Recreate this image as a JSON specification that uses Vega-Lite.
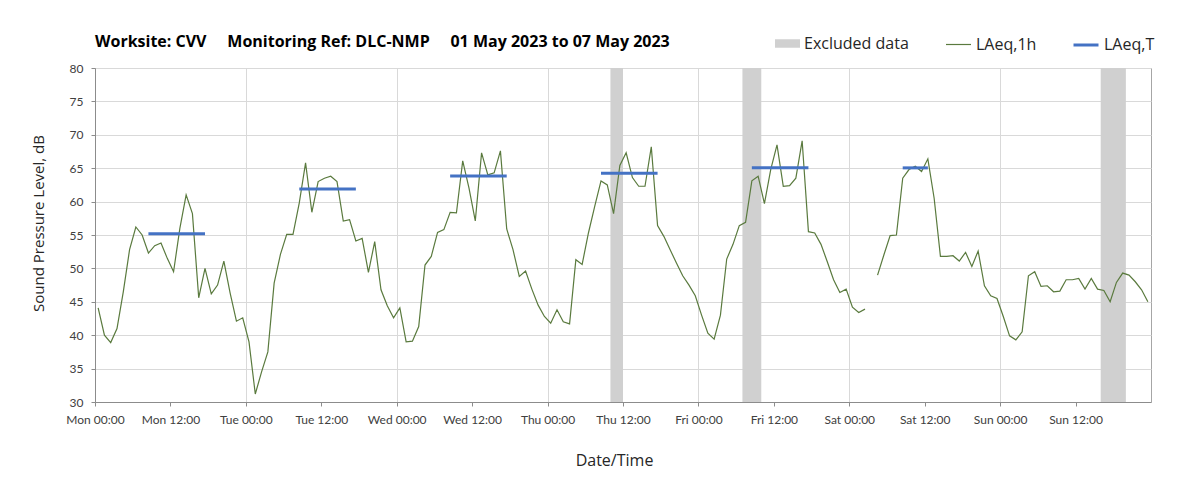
{
  "$schema": "https://vega.github.io/schema/vega-lite/v6.json",
  "autosize": {"type": "none"},
  "width": 1056,
  "height": 334,
  "padding": {"left": 95, "top": 68, "right": 52, "bottom": 93},
  "background": "white",
  "title": {
    "text": "Worksite: CVV\u00a0\u00a0\u00a0\u00a0\u00a0Monitoring Ref: DLC-NMP\u00a0\u00a0\u00a0\u00a0\u00a001 May 2023 to 07 May 2023",
    "anchor": "start", "frame": "group", "fontSize": 16, "fontWeight": "bold", "font": "Open Sans", "color": "#000000", "offset": 20, "dy": 39
  },
  "config": {
    "font": "Lato",
    "view": {"stroke": "#a6a6a6", "strokeWidth": 1},
    "axis": {
      "labelFont": "Lato", "labelFontSize": 12, "labelColor": "#404040",
      "titleFont": "Open Sans", "titleFontSize": 15, "titleFontWeight": "normal", "titleColor": "#262626",
      "gridColor": "#d9d9d9", "domainColor": "#8c8c8c", "tickColor": "#8c8c8c", "tickSize": 4, "labelPadding": 8
    },
    "legend": {
      "orient": "none", "legendY": -37, "labelFont": "Open Sans", "labelFontSize": 16, "labelColor": "#262626",
      "symbolSize": 625, "labelOffset": 4, "symbolOpacity": 1
    }
  },
  "datasets": {
    "hourly": [
      {"t":"2023-05-01T00:30","v":44.1},{"t":"2023-05-01T01:30","v":40.0},{"t":"2023-05-01T02:30","v":38.9},{"t":"2023-05-01T03:30","v":41.0},
      {"t":"2023-05-01T04:30","v":46.5},{"t":"2023-05-01T05:30","v":52.8},{"t":"2023-05-01T06:30","v":56.2},{"t":"2023-05-01T07:30","v":55.0},
      {"t":"2023-05-01T08:30","v":52.3},{"t":"2023-05-01T09:30","v":53.4},{"t":"2023-05-01T10:30","v":53.8},{"t":"2023-05-01T11:30","v":51.5},
      {"t":"2023-05-01T12:30","v":49.5},{"t":"2023-05-01T13:30","v":56.0},{"t":"2023-05-01T14:30","v":61.0},{"t":"2023-05-01T15:30","v":58.2},
      {"t":"2023-05-01T16:30","v":45.6},{"t":"2023-05-01T17:30","v":50.0},{"t":"2023-05-01T18:30","v":46.2},{"t":"2023-05-01T19:30","v":47.5},
      {"t":"2023-05-01T20:30","v":51.1},{"t":"2023-05-01T21:30","v":46.3},{"t":"2023-05-01T22:30","v":42.1},{"t":"2023-05-01T23:30","v":42.6},
      {"t":"2023-05-02T00:30","v":39.0},{"t":"2023-05-02T01:30","v":31.2},{"t":"2023-05-02T02:30","v":34.5},{"t":"2023-05-02T03:30","v":37.5},
      {"t":"2023-05-02T04:30","v":47.8},{"t":"2023-05-02T05:30","v":52.1},{"t":"2023-05-02T06:30","v":55.1},{"t":"2023-05-02T07:30","v":55.1},
      {"t":"2023-05-02T08:30","v":59.8},{"t":"2023-05-02T09:30","v":65.8},{"t":"2023-05-02T10:30","v":58.4},{"t":"2023-05-02T11:30","v":63.0},
      {"t":"2023-05-02T12:30","v":63.5},{"t":"2023-05-02T13:30","v":63.8},{"t":"2023-05-02T14:30","v":63.0},{"t":"2023-05-02T15:30","v":57.1},
      {"t":"2023-05-02T16:30","v":57.3},{"t":"2023-05-02T17:30","v":54.1},{"t":"2023-05-02T18:30","v":54.5},{"t":"2023-05-02T19:30","v":49.4},
      {"t":"2023-05-02T20:30","v":54.0},{"t":"2023-05-02T21:30","v":46.8},{"t":"2023-05-02T22:30","v":44.4},{"t":"2023-05-02T23:30","v":42.6},
      {"t":"2023-05-03T00:30","v":44.1},{"t":"2023-05-03T01:30","v":39.0},{"t":"2023-05-03T02:30","v":39.1},{"t":"2023-05-03T03:30","v":41.3},
      {"t":"2023-05-03T04:30","v":50.5},{"t":"2023-05-03T05:30","v":51.8},{"t":"2023-05-03T06:30","v":55.4},{"t":"2023-05-03T07:30","v":55.8},
      {"t":"2023-05-03T08:30","v":58.4},{"t":"2023-05-03T09:30","v":58.3},{"t":"2023-05-03T10:30","v":66.1},{"t":"2023-05-03T11:30","v":62.0},
      {"t":"2023-05-03T12:30","v":57.1},{"t":"2023-05-03T13:30","v":67.3},{"t":"2023-05-03T14:30","v":64.0},{"t":"2023-05-03T15:30","v":64.3},
      {"t":"2023-05-03T16:30","v":67.6},{"t":"2023-05-03T17:30","v":55.9},{"t":"2023-05-03T18:30","v":52.8},{"t":"2023-05-03T19:30","v":48.8},
      {"t":"2023-05-03T20:30","v":49.6},{"t":"2023-05-03T21:30","v":46.9},{"t":"2023-05-03T22:30","v":44.5},{"t":"2023-05-03T23:30","v":42.8},
      {"t":"2023-05-04T00:30","v":41.8},{"t":"2023-05-04T01:30","v":43.8},{"t":"2023-05-04T02:30","v":42.0},{"t":"2023-05-04T03:30","v":41.7},
      {"t":"2023-05-04T04:30","v":51.3},{"t":"2023-05-04T05:30","v":50.6},{"t":"2023-05-04T06:30","v":55.3},{"t":"2023-05-04T07:30","v":59.3},
      {"t":"2023-05-04T08:30","v":63.1},{"t":"2023-05-04T09:30","v":62.5},{"t":"2023-05-04T10:30","v":58.2},{"t":"2023-05-04T11:30","v":65.4},
      {"t":"2023-05-04T12:30","v":67.3},{"t":"2023-05-04T13:30","v":63.6},{"t":"2023-05-04T14:30","v":62.3},{"t":"2023-05-04T15:30","v":62.3},
      {"t":"2023-05-04T16:30","v":68.2},{"t":"2023-05-04T17:30","v":56.4},{"t":"2023-05-04T18:30","v":54.8},{"t":"2023-05-04T19:30","v":52.8},
      {"t":"2023-05-04T20:30","v":50.8},{"t":"2023-05-04T21:30","v":48.9},{"t":"2023-05-04T22:30","v":47.5},{"t":"2023-05-04T23:30","v":45.9},
      {"t":"2023-05-05T00:30","v":43.0},{"t":"2023-05-05T01:30","v":40.3},{"t":"2023-05-05T02:30","v":39.4},{"t":"2023-05-05T03:30","v":43.0},
      {"t":"2023-05-05T04:30","v":51.4},{"t":"2023-05-05T05:30","v":53.6},{"t":"2023-05-05T06:30","v":56.4},{"t":"2023-05-05T07:30","v":56.9},
      {"t":"2023-05-05T08:30","v":63.1},{"t":"2023-05-05T09:30","v":63.8},{"t":"2023-05-05T10:30","v":59.7},{"t":"2023-05-05T11:30","v":64.8},
      {"t":"2023-05-05T12:30","v":68.5},{"t":"2023-05-05T13:30","v":62.3},{"t":"2023-05-05T14:30","v":62.4},{"t":"2023-05-05T15:30","v":63.5},
      {"t":"2023-05-05T16:30","v":69.1},{"t":"2023-05-05T17:30","v":55.5},{"t":"2023-05-05T18:30","v":55.3},{"t":"2023-05-05T19:30","v":53.6},
      {"t":"2023-05-05T20:30","v":51.0},{"t":"2023-05-05T21:30","v":48.3},{"t":"2023-05-05T22:30","v":46.4},{"t":"2023-05-05T23:30","v":46.9},
      {"t":"2023-05-06T00:30","v":44.2},{"t":"2023-05-06T01:30","v":43.4},{"t":"2023-05-06T02:30","v":43.9},{"t":"2023-05-06T03:30","v":null},
      {"t":"2023-05-06T04:30","v":49.0},{"t":"2023-05-06T05:30","v":52.0},{"t":"2023-05-06T06:30","v":54.9},{"t":"2023-05-06T07:30","v":55.0},
      {"t":"2023-05-06T08:30","v":63.5},{"t":"2023-05-06T09:30","v":64.8},{"t":"2023-05-06T10:30","v":65.3},{"t":"2023-05-06T11:30","v":64.5},
      {"t":"2023-05-06T12:30","v":66.4},{"t":"2023-05-06T13:30","v":60.5},{"t":"2023-05-06T14:30","v":51.8},{"t":"2023-05-06T15:30","v":51.8},
      {"t":"2023-05-06T16:30","v":51.9},{"t":"2023-05-06T17:30","v":51.1},{"t":"2023-05-06T18:30","v":52.4},{"t":"2023-05-06T19:30","v":50.3},
      {"t":"2023-05-06T20:30","v":52.6},{"t":"2023-05-06T21:30","v":47.4},{"t":"2023-05-06T22:30","v":45.9},{"t":"2023-05-06T23:30","v":45.5},
      {"t":"2023-05-07T00:30","v":42.8},{"t":"2023-05-07T01:30","v":39.9},{"t":"2023-05-07T02:30","v":39.3},{"t":"2023-05-07T03:30","v":40.5},
      {"t":"2023-05-07T04:30","v":48.9},{"t":"2023-05-07T05:30","v":49.5},{"t":"2023-05-07T06:30","v":47.3},{"t":"2023-05-07T07:30","v":47.4},
      {"t":"2023-05-07T08:30","v":46.5},{"t":"2023-05-07T09:30","v":46.6},{"t":"2023-05-07T10:30","v":48.3},{"t":"2023-05-07T11:30","v":48.3},
      {"t":"2023-05-07T12:30","v":48.5},{"t":"2023-05-07T13:30","v":46.9},{"t":"2023-05-07T14:30","v":48.5},{"t":"2023-05-07T15:30","v":46.9},
      {"t":"2023-05-07T16:30","v":46.7},{"t":"2023-05-07T17:30","v":45.0},{"t":"2023-05-07T18:30","v":47.9},{"t":"2023-05-07T19:30","v":49.3},
      {"t":"2023-05-07T20:30","v":49.0},{"t":"2023-05-07T21:30","v":48.0},{"t":"2023-05-07T22:30","v":46.8},{"t":"2023-05-07T23:30","v":45.0}
    ],
    "period": [
      {"t":"2023-05-01T08:30","v":55.2,"d":"Mon"},{"t":"2023-05-01T17:30","v":55.2,"d":"Mon"},
      {"t":"2023-05-02T08:30","v":61.9,"d":"Tue"},{"t":"2023-05-02T17:30","v":61.9,"d":"Tue"},
      {"t":"2023-05-03T08:30","v":63.85,"d":"Wed"},{"t":"2023-05-03T17:30","v":63.85,"d":"Wed"},
      {"t":"2023-05-04T08:30","v":64.25,"d":"Thu"},{"t":"2023-05-04T17:30","v":64.25,"d":"Thu"},
      {"t":"2023-05-05T08:30","v":65.05,"d":"Fri"},{"t":"2023-05-05T17:30","v":65.05,"d":"Fri"},
      {"t":"2023-05-06T08:30","v":65.05,"d":"Sat"},{"t":"2023-05-06T12:30","v":65.05,"d":"Sat"}
    ],
    "excluded": [
      {"t":"2023-05-04T10:00","t2":"2023-05-04T12:00"},
      {"t":"2023-05-05T07:00","t2":"2023-05-05T10:00"},
      {"t":"2023-05-07T16:00","t2":"2023-05-07T20:00"}
    ]
  },
  "encoding": {
    "x": {
      "field": "t", "type": "temporal", "title": "Date/Time",
      "scale": {"domain": [{"year": 2023, "month": 5, "date": 1}, {"year": 2023, "month": 5, "date": 8}]},
      "axis": {
        "values": [
          {"year":2023,"month":5,"date":1,"hours":0},{"year":2023,"month":5,"date":1,"hours":12},
          {"year":2023,"month":5,"date":2,"hours":0},{"year":2023,"month":5,"date":2,"hours":12},
          {"year":2023,"month":5,"date":3,"hours":0},{"year":2023,"month":5,"date":3,"hours":12},
          {"year":2023,"month":5,"date":4,"hours":0},{"year":2023,"month":5,"date":4,"hours":12},
          {"year":2023,"month":5,"date":5,"hours":0},{"year":2023,"month":5,"date":5,"hours":12},
          {"year":2023,"month":5,"date":6,"hours":0},{"year":2023,"month":5,"date":6,"hours":12},
          {"year":2023,"month":5,"date":7,"hours":0},{"year":2023,"month":5,"date":7,"hours":12}
        ],
        "format": "%a %H:%M", "labelAngle": 0, "labelOverlap": false, "labelFlush": false,
        "gridOpacity": {"condition": {"test": "hours(datum.value) == 12", "value": 0}, "value": 1},
        "titleFontSize": 16,
        "titleX": 519, "titleY": 58, "titleAlign": "center", "titleBaseline": "middle"
      }
    },
    "y": {
      "field": "v", "type": "quantitative", "title": "Sound Pressure Level, dB",
      "scale": {"domain": [30, 80], "nice": false, "zero": false},
      "axis": {
        "values": [30, 35, 40, 45, 50, 55, 60, 65, 70, 75, 80],
        "labelOverlap": false, "grid": true,
        "titleX": -57, "titleY": 155, "titleAngle": -90, "titleAlign": "center", "titleBaseline": "middle"
      }
    }
  },
  "layer": [
    {
      "data": {"name": "excluded"},
      "mark": {"type": "rect", "opacity": 1},
      "encoding": {
        "x2": {"field": "t2"},
        "y": null,
        "fill": {
          "datum": "Excluded data", "type": "nominal",
          "scale": {"domain": ["Excluded data"], "range": ["#d0d0d0"]},
          "legend": {"title": null, "legendX": 680, "symbolType": "M-1,-0.34H1V0.34H-1Z", "symbolStrokeWidth": 0, "symbolFillColor": "#d0d0d0"}
        }
      }
    },
    {
      "data": {"name": "hourly"},
      "mark": {"type": "line", "strokeWidth": 1.2},
      "encoding": {
        "stroke": {
          "datum": "LAeq,1h", "type": "nominal",
          "scale": {"domain": ["LAeq,1h"], "range": ["#5a7a3e"]},
          "legend": {"title": null, "legendX": 850, "symbolType": "stroke", "symbolStrokeWidth": 1.2}
        }
      }
    },
    {
      "data": {"name": "period"},
      "mark": {"type": "line", "strokeWidth": 3, "strokeCap": "butt"},
      "encoding": {
        "detail": {"field": "d"},
        "color": {
          "datum": "LAeq,T", "type": "nominal",
          "scale": {"domain": ["LAeq,T"], "range": ["#4472c4"]},
          "legend": {"title": null, "legendX": 977, "symbolType": "stroke", "symbolStrokeWidth": 3}
        }
      }
    }
  ]
}
